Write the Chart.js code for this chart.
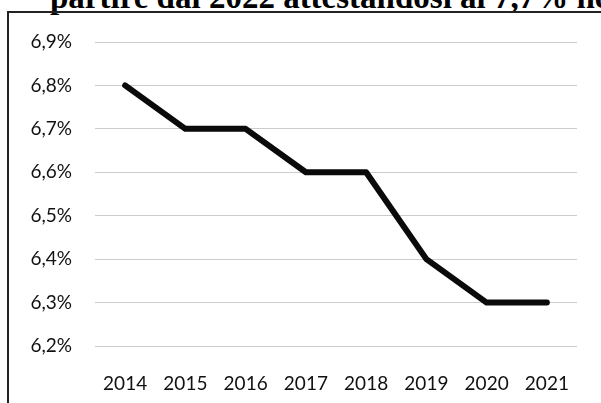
<!DOCTYPE html>
<html>
<head>
<meta charset="utf-8">
<script src="https://cdn.jsdelivr.net/npm/chart.js@4"></script>
<style>
  html, body { margin: 0; padding: 0; background: #fff; overflow: hidden; }
  #wrap { position: relative; width: 601px; height: 403px; overflow: hidden; }
  #title {
    position: absolute; left: 50px; top: -21px; white-space: nowrap;
    font: bold 33px "Liberation Serif", serif; color: #000;
  }
  #frame {
    position: absolute; left: 7px; top: 11px; width: 600px; height: 400px;
    border-left: 2px solid #222; border-top: 2px solid #222;
  }
  canvas { position: absolute; left: 0; top: 0; }
</style>
</head>
<body>
<div id="wrap">
  <div id="title">partire dal 2022 attestandosi al 7,7% nel</div>
  <div id="frame"></div>
  <canvas id="chart" width="601" height="403"></canvas>
</div>
<script>
  const years = ["2014", "2015", "2016", "2017", "2018", "2019", "2020", "2021"];
  const rates = [6.8, 6.7, 6.7, 6.6, 6.6, 6.4, 6.3, 6.3];
  const yMin = 6.2;
  const yMax = 6.9;

  const ctx = document.getElementById("chart").getContext("2d");

  new Chart(ctx, {
    type: "line",
    data: {
      labels: years,
      datasets: [
        { data: rates, borderColor: "#0a0a0a", borderWidth: 6, pointRadius: 0, tension: 0, fill: false, borderJoinStyle: "round", borderCapStyle: "round" },
      ],
    },
    options: {
      responsive: false,
      animation: false,
      layout: { padding: { top: 42, right: 24, left: 0, bottom: 0 } },
      plugins: { legend: { display: false }, tooltip: { enabled: false } },
      scales: {
        x: {
          offset: true,
          grid: { display: false },
          border: { display: false },
          ticks: { color: "#111", font: { family: "Lato", size: 19 }, padding: 18, maxRotation: 0 },
          afterFit: (s) => { s.height = 57; },
        },
        y: {
          min: yMin,
          max: yMax,
          grid: { color: "#cccccc", lineWidth: 1, drawTicks: false },
          border: { display: false },
          ticks: {
            stepSize: 0.1,
            color: "#111",
            font: { family: "Lato", size: 19 },
            padding: 23,
            callback: (v) => v.toFixed(1).replace(".", ",") + "%",
          },
          afterFit: (s) => { s.width = 95; },
        },
      },
    },
  });
</script>
</body>
</html>
